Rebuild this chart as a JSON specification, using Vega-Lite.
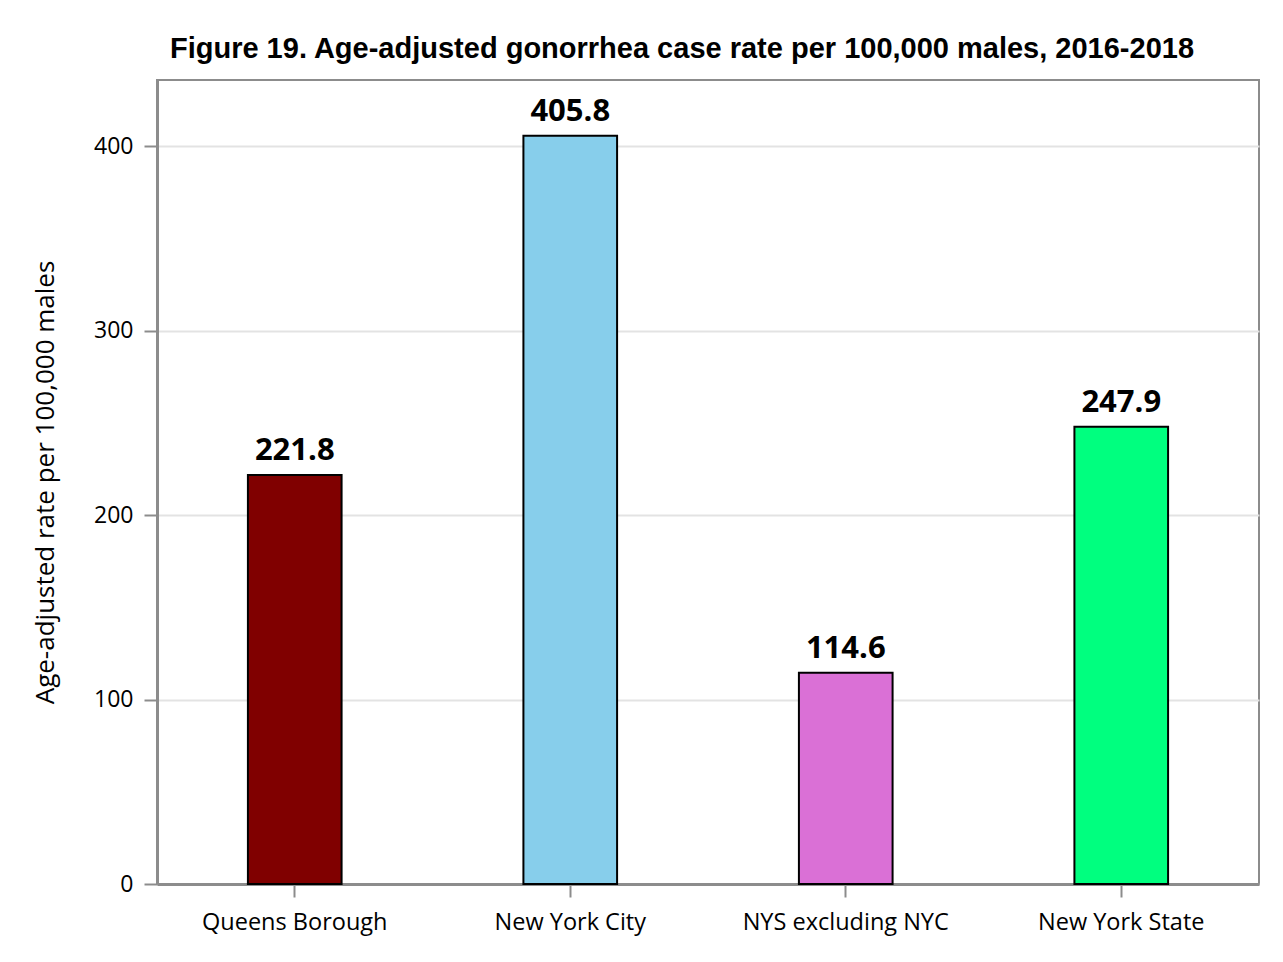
{
  "$schema": "https://vega.github.io/schema/vega-lite/v6.json",
  "width": 1102,
  "height": 804,
  "autosize": {"type": "none"},
  "padding": {"left": 157, "top": 80, "right": 24, "bottom": 78},
  "background": "white",
  "title": {
    "text": "Figure 19. Age-adjusted gonorrhea case rate per 100,000 males, 2016-2018",
    "font": "Liberation Sans",
    "fontSize": 29,
    "fontWeight": "bold",
    "color": "#000000",
    "anchor": "middle",
    "dx": -26,
    "offset": 16
  },
  "data": {
    "values": [
      {"region": "Queens Borough", "rate": 221.8},
      {"region": "New York City", "rate": 405.8},
      {"region": "NYS excluding NYC", "rate": 114.6},
      {"region": "New York State", "rate": 247.9}
    ]
  },
  "encoding": {
    "x": {
      "field": "region",
      "type": "nominal",
      "sort": null,
      "scale": {"paddingInner": 0, "paddingOuter": 0},
      "axis": {
        "title": null,
        "labelAngle": 0,
        "labelLimit": 0,
        "labelFont": "Open Sans",
        "labelFontSize": 23.5,
        "labelColor": "#000000",
        "labelPadding": 13,
        "domainColor": "#8c8c8c",
        "domainWidth": 3,
        "tickColor": "#8c8c8c",
        "tickWidth": 2,
        "tickSize": 13,
        "grid": false
      }
    },
    "y": {
      "field": "rate",
      "type": "quantitative",
      "scale": {"domain": [0, 436], "nice": false},
      "axis": {
        "title": "Age-adjusted rate per 100,000 males",
        "titleFont": "Open Sans",
        "titleFontSize": 26,
        "titleFontWeight": "normal",
        "titleColor": "#000000",
        "titlePadding": 35,
        "values": [0, 100, 200, 300, 400],
        "labelFont": "Open Sans",
        "labelFontSize": 23,
        "labelColor": "#000000",
        "labelPadding": 11,
        "domainColor": "#8c8c8c",
        "domainWidth": 3,
        "tickColor": "#8c8c8c",
        "tickWidth": 2,
        "tickSize": 13,
        "grid": true,
        "gridColor": "#e3e3e3",
        "gridWidth": 2
      }
    }
  },
  "layer": [
    {
      "mark": {"type": "bar", "width": {"band": 0.34}, "stroke": "#000000", "strokeWidth": 2},
      "encoding": {
        "color": {
          "field": "region",
          "type": "nominal",
          "scale": {
            "domain": ["Queens Borough", "New York City", "NYS excluding NYC", "New York State"],
            "range": ["#800000", "#87CEEB", "#DA70D6", "#00FF7F"]
          },
          "legend": null
        }
      }
    },
    {
      "mark": {
        "type": "text",
        "font": "Open Sans",
        "fontSize": 31,
        "fontWeight": "bold",
        "color": "#000000",
        "baseline": "alphabetic",
        "dy": -15
      },
      "encoding": {
        "text": {"field": "rate", "type": "quantitative", "format": ".1f"}
      }
    }
  ],
  "config": {
    "view": {"stroke": "#8c8c8c", "strokeWidth": 2}
  }
}
